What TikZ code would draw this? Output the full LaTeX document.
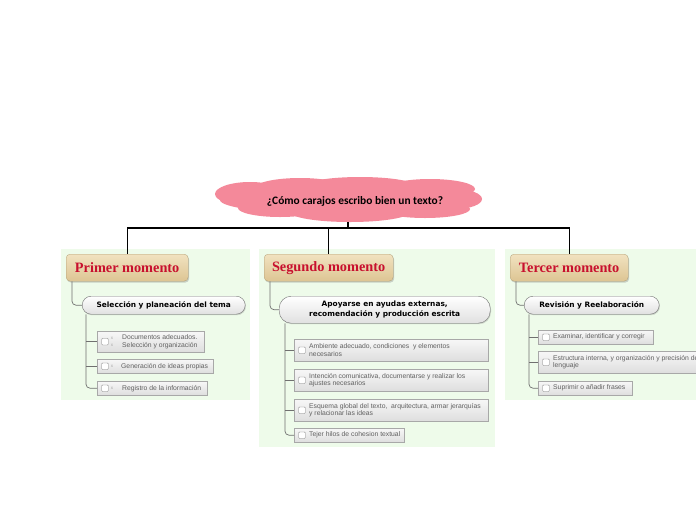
\documentclass[tikz,border=0pt]{standalone}
\usepackage{fontspec}
\setmainfont{Liberation Sans}
\newfontfamily\cloudfont{Carlito}
\newfontfamily\titlefont{Liberation Serif}
\newfontfamily\subfont{DejaVu Sans}
\usetikzlibrary{shadows,calc}
\definecolor{cloudpink}{HTML}{F4899A}
\definecolor{panelgreen}{HTML}{EEFBEA}
\definecolor{beigeA}{HTML}{F1E2C0}
\definecolor{beigeB}{HTML}{DDC593}
\definecolor{titlered}{HTML}{C8102E}
\definecolor{leafborder}{HTML}{A8A8A8}
\definecolor{leaftext}{HTML}{606060}
\definecolor{linegray}{HTML}{707070}
\tikzset{
  panel/.style={fill=panelgreen,draw=none},
  momento/.style={rounded corners=4pt,top color=beigeA,bottom color=beigeB,draw=beigeB!80!black,line width=0.3pt,
    drop shadow={shadow xshift=1pt,shadow yshift=-1.5pt,opacity=0.35},anchor=north west,inner sep=0pt},
  mtitle/.style={font=\titlefont\bfseries\fontsize{14.3}{15}\selectfont,text=titlered,inner sep=0pt},
  subnode/.style={rounded corners=9pt,top color=white,bottom color=black!12,draw=black!55,line width=0.4pt,
    drop shadow={shadow xshift=0.8pt,shadow yshift=-1pt,opacity=0.3},
    font=\subfont\bfseries\fontsize{7.4}{9.6}\selectfont,align=center,anchor=north west,inner sep=0pt},
  leaf/.style={top color=black!3,bottom color=black!13,draw=leafborder,line width=0.4pt,anchor=north west,inner sep=0pt,
    drop shadow={shadow xshift=0.6pt,shadow yshift=-0.8pt,opacity=0.2}},
  leaftxt/.style={font=\fontsize{6.8}{7.8}\selectfont,text=leaftext,align=left,anchor=west,inner sep=0pt},
  chk/.style={draw=black!50,fill=white,rounded corners=0.8pt,minimum size=6.5pt,inner sep=0pt,line width=0.4pt},
  mainline/.style={draw=black,line width=1.3pt},
  branch/.style={draw=linegray,line width=0.7pt,rounded corners=4pt},
  xm/.style={font=\fontsize{4.5}{5}\selectfont,text=black!35,inner sep=0pt}
}
\begin{document}
\begin{tikzpicture}[x=1pt,y=-1pt]
\useasboundingbox (0,0) rectangle (696,520);
\clip (0,0) rectangle (696,520);
\fill[white] (0,0) rectangle (696,520);
% panels
\fill[panel] (61,249) rectangle (250,400);
\fill[panel] (259,249) rectangle (495,447);
\fill[panel] (505,249) rectangle (696,400);
% cloud
\begin{scope}[fill=cloudpink]
\fill (348,200) ellipse (128 and 15);
\fill (250,194) ellipse (35 and 12);
\fill (300,188) ellipse (45 and 10);
\fill (360,186) ellipse (55 and 9);
\fill (430,189) ellipse (45 and 10);
\fill (455,199) ellipse (27 and 10);
\fill (280,208) ellipse (42 and 9);
\fill (350,212) ellipse (60 and 10);
\fill (425,209) ellipse (45 and 9);
\end{scope}
\node[font=\cloudfont\bfseries\fontsize{11.4}{13}\selectfont,inner sep=0pt] (root) at (355,201) {¿Cómo carajos escribo bien un texto?};
\coordinate (rootbot) at (348,222);
\coordinate (bar) at (348,228);
% momento boxes
\node[momento,minimum width=122pt,minimum height=27pt] (m1) at (66,254) {};
\node[mtitle] at (m1.center) {Primer momento};
\node[momento,minimum width=129pt,minimum height=27pt] (m2) at (264,254) {};
\node[mtitle] at (m2.center) {Segundo momento};
\node[momento,minimum width=118pt,minimum height=27pt] (m3) at (510,254) {};
\node[mtitle] at (m3.center) {Tercer momento};
% main connectors
\draw[mainline] (rootbot) -- (bar);
\draw[mainline] (m1.north) |- (bar) -| (m3.north);
\draw[mainline] (m2.north) -- (m2.north |- bar);
% sub nodes
\node[subnode,minimum width=163pt,minimum height=18pt] (s1) at (82,296) {Selección y planeación del tema};
\node[subnode,minimum width=211pt,minimum height=27pt,rounded corners=12pt] (s2) at (279,296) {Apoyarse en ayudas externas,\\recomendación y producción escrita};
\node[subnode,minimum width=135pt,minimum height=18pt] (s3) at (524,296) {Revisión y Reelaboración};
\draw[branch] ($(m1.south west)+(6,0)$) |- (s1.west);
\draw[branch] ($(m2.south west)+(6,0)$) |- (s2.west);
\draw[branch] ($(m3.south west)+(6,0)$) |- (s3.west);
% leaves panel 1
\node[leaf,minimum width=107pt,minimum height=21pt] (a1) at (97,331) {};
\node[leaf,minimum width=116pt,minimum height=14pt] (a2) at (97,359) {};
\node[leaf,minimum width=110pt,minimum height=14pt] (a3) at (97,381) {};
\foreach \n in {a1,a2,a3}{\node[chk] at ($(\n.west)+(8,0)$) {};}
\node[xm] at ($(a1.west)+(15,-3.5)$) {x};
\node[xm] at ($(a1.west)+(15,3.5)$) {x};
\node[xm] at ($(a2.west)+(15,0)$) {x};
\node[xm] at ($(a3.west)+(15,0)$) {x};
\node[leaftxt] at ($(a1.west)+(25,0)$) {Documentos adecuados.\\Selección y organización};
\node[leaftxt] at ($(a2.west)+(24,0)$) {Generación de ideas propias};
\node[leaftxt] at ($(a3.west)+(25,0)$) {Registro de la información};
\draw[branch] (s1.south -| 86,0) |- (a3.west);
\draw[branch] (a1.west) -- (a1.west -| 86,0);
\draw[branch] (a2.west) -- (a2.west -| 86,0);
% leaves panel 2
\node[leaf,minimum width=194pt,minimum height=22pt] (b1) at (294,339) {};
\node[leaf,minimum width=194pt,minimum height=22pt] (b2) at (294,369) {};
\node[leaf,minimum width=194pt,minimum height=22pt] (b3) at (294,399) {};
\node[leaf,minimum width=110pt,minimum height=14pt] (b4) at (294,428) {};
\foreach \n in {b1,b2,b3,b4}{\node[chk] at ($(\n.west)+(8,0)$) {};}
\node[leaftxt] at ($(b1.west)+(15,0)$) {Ambiente adecuado, condiciones\ \ y elementos\\necesarios};
\node[leaftxt] at ($(b2.west)+(15,0)$) {Intención comunicativa, documentarse y realizar los\\ajustes necesarios};
\node[leaftxt] at ($(b3.west)+(15,0)$) {Esquema global del texto,\ \ arquitectura, armar jerarquías\\y\ relacionar las ideas};
\node[leaftxt] at ($(b4.west)+(15,0)$) {Tejer hilos de cohesion textual};
\draw[branch] (s2.south -| 285,0) |- (b4.west);
\draw[branch] (b1.west) -- (b1.west -| 285,0);
\draw[branch] (b2.west) -- (b2.west -| 285,0);
\draw[branch] (b3.west) -- (b3.west -| 285,0);
% leaves panel 3
\node[leaf,minimum width=115pt,minimum height=14pt] (c1) at (538,330) {};
\node[leaf,minimum width=170pt,minimum height=22pt] (c2) at (538,351) {};
\node[leaf,minimum width=94pt,minimum height=14pt] (c3) at (538,381) {};
\foreach \n in {c1,c2,c3}{\node[chk] at ($(\n.west)+(8,0)$) {};}
\node[leaftxt] at ($(c1.west)+(15,0)$) {Examinar, identificar y corregir};
\node[leaftxt] at ($(c2.west)+(15,0)$) {Estructura interna, y organización y precisión del\\lenguaje};
\node[leaftxt] at ($(c3.west)+(15,0)$) {Suprimir o añadir frases};
\draw[branch] (s3.south -| 529,0) |- (c3.west);
\draw[branch] (c1.west) -- (c1.west -| 529,0);
\draw[branch] (c2.west) -- (c2.west -| 529,0);
\end{tikzpicture}
\end{document}
